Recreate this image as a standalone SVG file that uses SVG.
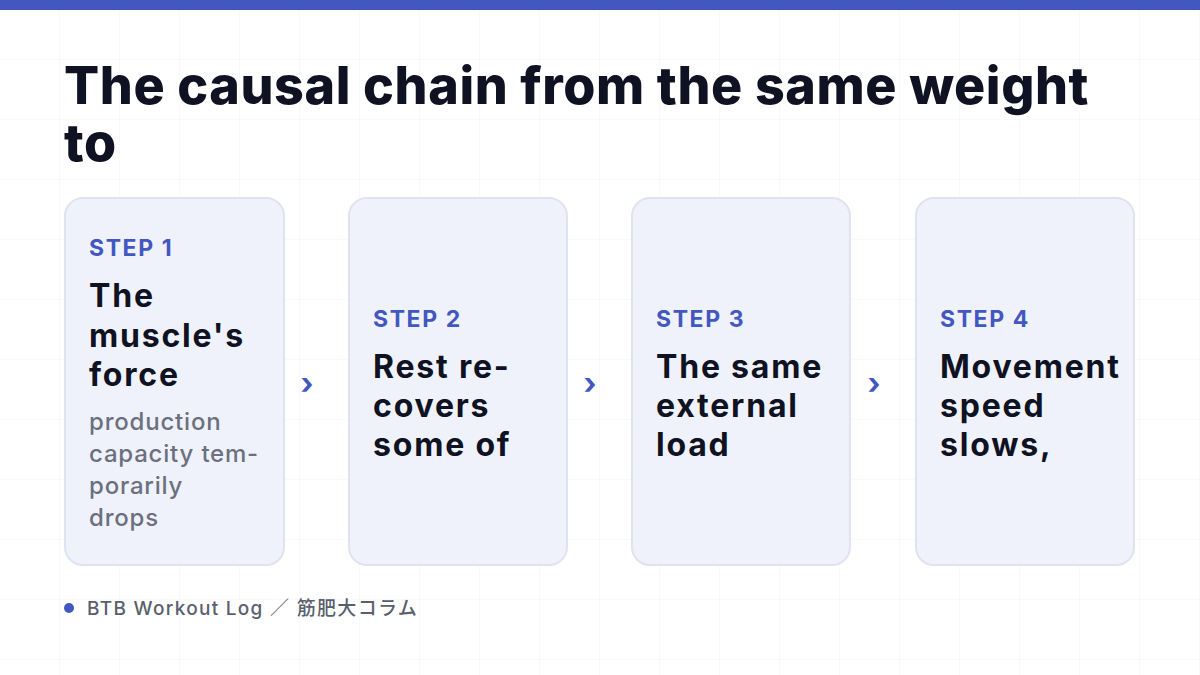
<svg xmlns="http://www.w3.org/2000/svg" width="1200" height="675" viewBox="0 0 1200 675">
<defs>
<pattern id="grid" width="60" height="60" patternUnits="userSpaceOnUse"><path d="M60 0V60H0" fill="none" stroke="#f1f2f5" stroke-width="1"/></pattern>
<style>
text{font-family:Inter,"Noto Sans","Noto Sans CJK JP",sans-serif}
.card{fill:#f0f2fb;stroke:#dfe3f0;stroke-width:2}
.step{fill:#4257c0;font-size:23px;font-weight:700;letter-spacing:1.6px}
.h{fill:#0f1222;font-size:32px;font-weight:700;letter-spacing:1.8px}
.b{fill:#6b7080;font-size:24px;font-weight:500;letter-spacing:0.8px}
.arr{fill:#4257c0;font-size:30px;font-weight:700}
</style>
</defs>
<rect width="1200" height="675" fill="#fff"/>
<rect width="1200" height="675" fill="url(#grid)"/>
<rect width="1200" height="10" fill="#4257c0"/>
<text x="64" y="104" style="font-size:52px;font-weight:800;fill:#0f1222;letter-spacing:0.6px">The causal chain from the same weight</text>
<text x="64" y="161" style="font-size:52px;font-weight:800;fill:#0f1222;letter-spacing:0.6px">to</text>
<g id="step1"><rect class="card" x="65" y="198" width="219" height="367" rx="18"/>
<text class="step" x="89" y="256">STEP 1</text>
<text class="h" x="89" y="307">The</text><text class="h" x="89" y="347">muscle's</text><text class="h" x="89" y="386">force</text>
<text class="b" x="89" y="430">production</text><text class="b" x="89" y="462">capacity tem-</text><text class="b" x="89" y="494">porarily</text><text class="b" x="89" y="526">drops</text></g>
<g id="step2"><rect class="card" x="349" y="198" width="218" height="367" rx="18"/>
<text class="step" x="373" y="327">STEP 2</text>
<text class="h" x="373" y="378">Rest re-</text><text class="h" x="373" y="417">covers</text><text class="h" x="373" y="456">some of</text></g>
<g id="step3"><rect class="card" x="632" y="198" width="218" height="367" rx="18"/>
<text class="step" x="656" y="327">STEP 3</text>
<text class="h" x="656" y="378">The same</text><text class="h" x="656" y="417">external</text><text class="h" x="656" y="456">load</text></g>
<g id="step4"><rect class="card" x="916" y="198" width="218" height="367" rx="18"/>
<text class="step" x="940" y="327">STEP 4</text>
<text class="h" x="940" y="378">Movement</text><text class="h" x="940" y="417">speed</text><text class="h" x="940" y="456">slows,</text></g>
<g id="connectors">
<text class="arr" x="307" y="394" text-anchor="middle">›</text>
<text class="arr" x="590" y="394" text-anchor="middle">›</text>
<text class="arr" x="874" y="394" text-anchor="middle">›</text>
</g>
<circle cx="69" cy="608" r="5" fill="#4257c0"/>
<text x="87" y="615" style="font-size:19px;fill:#5a5f6e;font-weight:500;letter-spacing:1.3px">BTB Workout Log ／ 筋肥大コラム</text>
</svg>
